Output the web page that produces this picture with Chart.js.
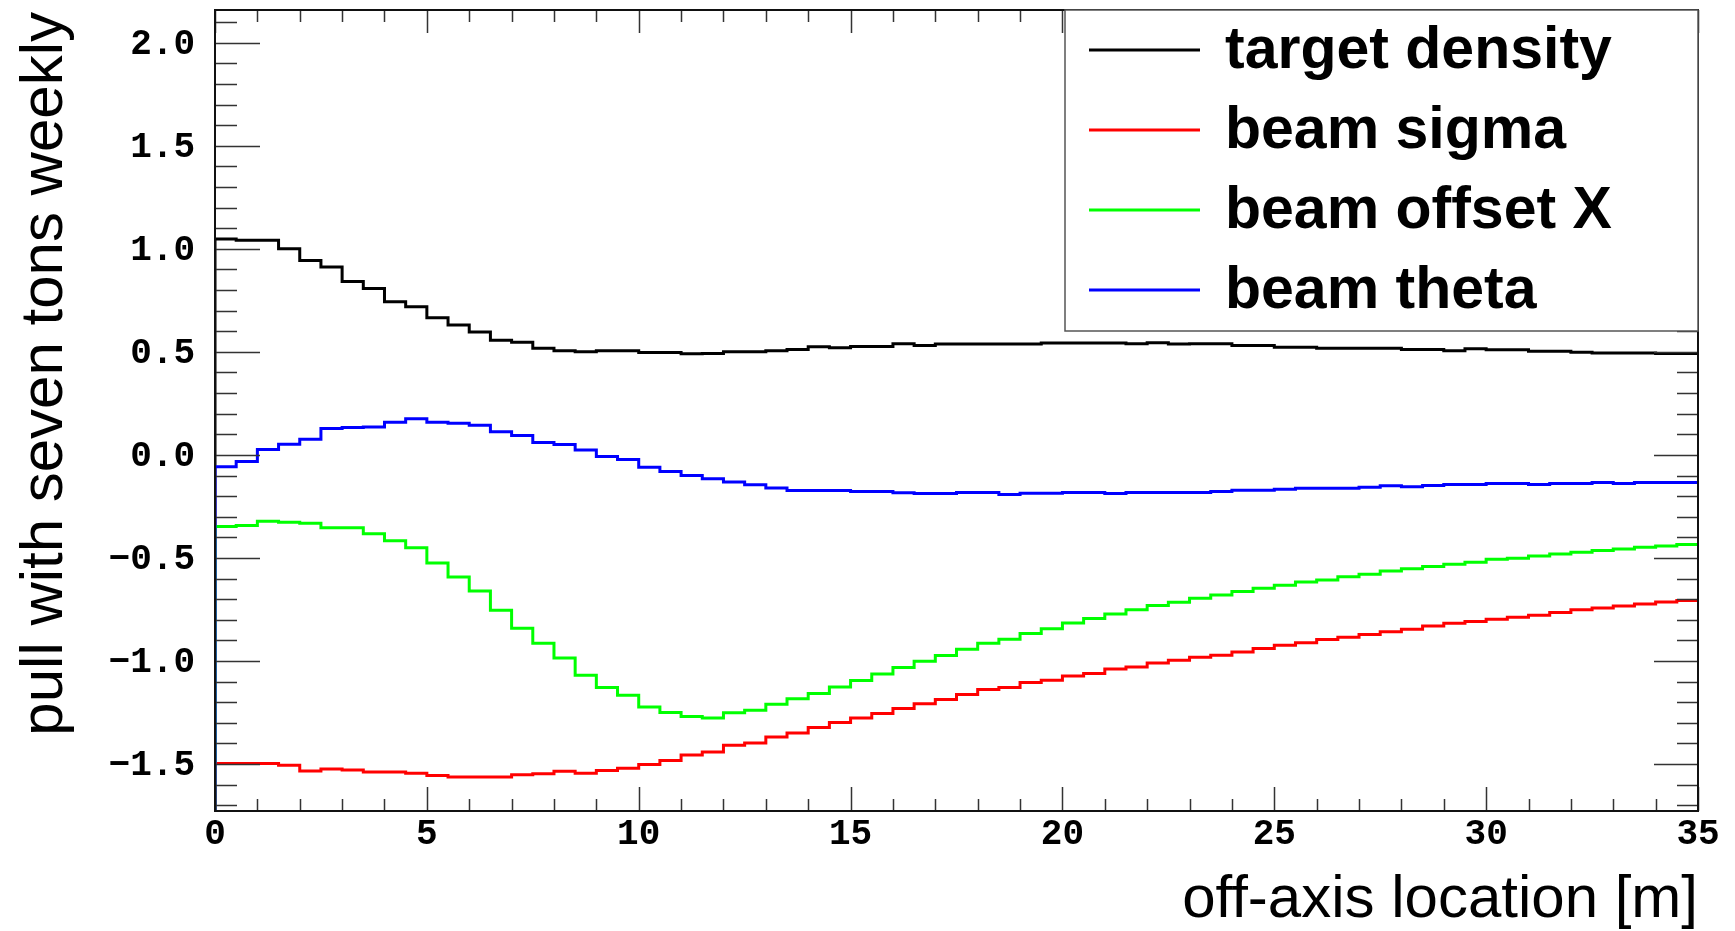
<!DOCTYPE html>
<html>
<head>
<meta charset="utf-8">
<title>pull with seven tons weekly</title>
<script src="https://cdn.jsdelivr.net/npm/chart.js@4/dist/chart.umd.min.js"></script>
<style>
  html, body { margin: 0; padding: 0; background: #fff; }
  #grafico { display: block; }
</style>
</head>
<body>
<canvas id="grafico" width="1735" height="931"></canvas>
<script>
// eixos
const xMin = 0, xMax = 35, binWidth = 0.5;
const yMin = -1.728, yMax = 2.159;
const xTicks = [0, 5, 10, 15, 20, 25, 30, 35];
const yTicks = [-1.5, -1.0, -0.5, 0.0, 0.5, 1.0, 1.5, 2.0];
const xTitle = "off-axis location [m]";
const yTitle = "pull with seven tons weekly";

const labels = ["target density", "beam sigma", "beam offset X", "beam theta"];
const colors = ["#000000", "#ff0000", "#00ff00", "#0000ff"];

// conteudo de cada bin (70 bins de 0.5 m)
const targetDensity = [
  1.048, 1.042, 1.042, 1.001, 0.944, 0.912, 0.841, 0.807, 0.743, 0.719,
  0.665, 0.630, 0.596, 0.557, 0.547, 0.517, 0.506, 0.501, 0.506, 0.506,
  0.497, 0.497, 0.491, 0.492, 0.500, 0.500, 0.505, 0.512, 0.525, 0.520,
  0.526, 0.526, 0.540, 0.531, 0.538, 0.538, 0.538, 0.538, 0.538, 0.543,
  0.543, 0.543, 0.543, 0.540, 0.544, 0.538, 0.540, 0.540, 0.531, 0.531,
  0.523, 0.523, 0.518, 0.518, 0.518, 0.518, 0.511, 0.511, 0.505, 0.515,
  0.510, 0.510, 0.503, 0.503, 0.498, 0.495, 0.495, 0.495, 0.492, 0.492
];
const beamSigma = [
  -1.498, -1.498, -1.498, -1.506, -1.534, -1.524, -1.529, -1.539, -1.539, -1.545,
  -1.556, -1.563, -1.563, -1.563, -1.552, -1.547, -1.535, -1.545, -1.531, -1.521,
  -1.502, -1.483, -1.456, -1.442, -1.409, -1.398, -1.369, -1.350, -1.323, -1.299,
  -1.277, -1.255, -1.230, -1.207, -1.187, -1.163, -1.139, -1.129, -1.105, -1.094,
  -1.073, -1.061, -1.039, -1.029, -1.010, -0.997, -0.982, -0.972, -0.956, -0.940,
  -0.924, -0.911, -0.896, -0.885, -0.871, -0.858, -0.846, -0.830, -0.817, -0.808,
  -0.798, -0.788, -0.778, -0.765, -0.752, -0.743, -0.733, -0.723, -0.714, -0.707
];
const beamOffsetX = [
  -0.348, -0.343, -0.322, -0.327, -0.332, -0.353, -0.353, -0.382, -0.416, -0.451,
  -0.524, -0.592, -0.660, -0.754, -0.841, -0.914, -0.985, -1.069, -1.129, -1.166,
  -1.223, -1.250, -1.270, -1.277, -1.251, -1.239, -1.210, -1.183, -1.158, -1.126,
  -1.095, -1.063, -1.032, -1.001, -0.974, -0.943, -0.914, -0.895, -0.867, -0.843,
  -0.816, -0.794, -0.772, -0.751, -0.731, -0.715, -0.696, -0.680, -0.663, -0.647,
  -0.633, -0.617, -0.607, -0.591, -0.579, -0.563, -0.552, -0.542, -0.531, -0.521,
  -0.506, -0.502, -0.490, -0.481, -0.472, -0.464, -0.456, -0.448, -0.442, -0.435
];
const beamTheta = [
  -0.058, -0.032, 0.026, 0.052, 0.076, 0.128, 0.133, 0.136, 0.159, 0.175,
  0.159, 0.154, 0.144, 0.112, 0.094, 0.060, 0.050, 0.024, -0.008, -0.022,
  -0.060, -0.081, -0.100, -0.116, -0.131, -0.145, -0.160, -0.173, -0.173, -0.173,
  -0.178, -0.178, -0.184, -0.187, -0.187, -0.183, -0.183, -0.192, -0.186, -0.186,
  -0.183, -0.183, -0.187, -0.183, -0.183, -0.183, -0.183, -0.178, -0.172, -0.172,
  -0.167, -0.162, -0.162, -0.162, -0.157, -0.150, -0.155, -0.149, -0.144, -0.144,
  -0.139, -0.139, -0.144, -0.139, -0.139, -0.134, -0.139, -0.134, -0.134, -0.134
];

const series = [targetDensity, beamSigma, beamOffsetX, beamTheta];

const mono = '"Liberation Mono", "DejaVu Sans Mono", monospace';
const sans = '"Liberation Sans", Arial, Helvetica, sans-serif';

// histograma em degraus: sobe do fundo ate o primeiro bin, como no ROOT
function pontosHisto(valores) {
  const pts = [{ x: xMin, y: yMin }];
  valores.forEach((v, i) => pts.push({ x: xMin + i * binWidth, y: v }));
  pts.push({ x: xMin + valores.length * binWidth, y: valores[valores.length - 1] });
  return pts;
}

// ticks para dentro, moldura, legenda e titulos
const moldura = {
  id: 'moldura',
  afterDatasetsDraw(chart) {
    const ctx = chart.ctx;
    const area = chart.chartArea;
    const sx = chart.scales.x, sy = chart.scales.y;
    ctx.save();

    ctx.strokeStyle = '#333';
    ctx.lineWidth = 1.5;
    ctx.beginPath();
    for (let k = Math.ceil(yMin * 10); k <= Math.floor(yMax * 10); k++) {
      const py = Math.round(sy.getPixelForValue(k / 10)) + 0.5;
      const major = k % 5 === 0;
      ctx.moveTo(area.left, py);
      ctx.lineTo(area.left + (major ? 45 : 22), py);
      ctx.moveTo(area.right, py);
      ctx.lineTo(area.right - (major ? 44 : 21), py);
    }
    for (let k = xMin; k <= xMax; k++) {
      const px = Math.round(sx.getPixelForValue(k)) + 0.5;
      const major = k % 5 === 0;
      ctx.moveTo(px, area.bottom);
      ctx.lineTo(px, area.bottom - (major ? 24 : 12));
      ctx.moveTo(px, area.top);
      ctx.lineTo(px, area.top + (major ? 23 : 12));
    }
    ctx.stroke();

    ctx.strokeStyle = '#111';
    ctx.lineWidth = 2;
    ctx.strokeRect(area.left, area.top, area.right - area.left, area.bottom - area.top);

    // legenda
    const lx = area.left + 850, ly = area.top;
    const lw = area.right - lx, lh = 321;
    ctx.fillStyle = '#fff';
    ctx.fillRect(lx, ly, lw, lh);
    ctx.strokeStyle = '#555';
    ctx.lineWidth = 1.5;
    ctx.strokeRect(lx, ly, lw, lh);
    ctx.font = 'bold 59px ' + sans;
    ctx.textAlign = 'left';
    ctx.textBaseline = 'alphabetic';
    labels.forEach((txt, i) => {
      const ry = ly + 40 + i * 80;
      ctx.strokeStyle = colors[i];
      ctx.lineWidth = 3;
      ctx.beginPath();
      ctx.moveTo(lx + 24, ry);
      ctx.lineTo(lx + 135, ry);
      ctx.stroke();
      ctx.fillStyle = '#000';
      ctx.fillText(txt, lx + 160, ry + 18);
    });

    // titulos dos eixos
    ctx.fillStyle = '#000';
    ctx.font = '60px ' + sans;
    ctx.textAlign = 'right';
    ctx.fillText(xTitle, area.right, 917);
    ctx.translate(62, area.top + 2);
    ctx.rotate(-Math.PI / 2);
    ctx.fillText(yTitle, 0, 0);
    ctx.restore();
  }
};

// tira o espaco extra que o Chart.js reserva para os rotulos das pontas
function semPadding(s) {
  s.paddingTop = 0;
  s.paddingBottom = 0;
  s.paddingLeft = 0;
  s.paddingRight = 0;
}

const ctx = document.getElementById('grafico').getContext('2d');
window.grafico = new Chart(ctx, {
  type: 'line',
  data: {
    datasets: series.map((valores, i) => ({
      label: labels[i],
      data: pontosHisto(valores),
      borderColor: colors[i],
      borderWidth: 3,
      stepped: 'before',
      pointRadius: 0,
      fill: false,
      order: series.length - 1 - i
    }))
  },
  options: {
    responsive: false,
    animation: false,
    devicePixelRatio: 1,
    layout: { padding: { top: 10, right: 37, left: 0, bottom: 0 } },
    plugins: {
      legend: { display: false },
      tooltip: { enabled: false }
    },
    scales: {
      x: {
        type: 'linear',
        min: xMin,
        max: xMax,
        grid: { display: false, drawTicks: false },
        border: { display: false },
        afterFit: (s) => { s.height = 120; semPadding(s); },
        afterBuildTicks: (s) => { s.ticks = xTicks.map(v => ({ value: v })); },
        ticks: {
          font: { family: mono, size: 36, weight: 'bold' },
          color: '#000',
          padding: 2,
          maxRotation: 0,
          autoSkip: false,
          callback: (v) => String(v)
        }
      },
      y: {
        type: 'linear',
        min: yMin,
        max: yMax,
        grid: { display: false, drawTicks: false },
        border: { display: false },
        afterFit: (s) => { s.width = 215; semPadding(s); },
        afterBuildTicks: (s) => { s.ticks = yTicks.map(v => ({ value: v })); },
        ticks: {
          font: { family: mono, size: 36, weight: 'bold' },
          color: '#000',
          padding: 20,
          labelOffset: 2,
          autoSkip: false,
          callback: (v) => v.toFixed(1).replace('-', '\u2212')
        }
      }
    }
  },
  plugins: [moldura]
});
</script>
</body>
</html>
